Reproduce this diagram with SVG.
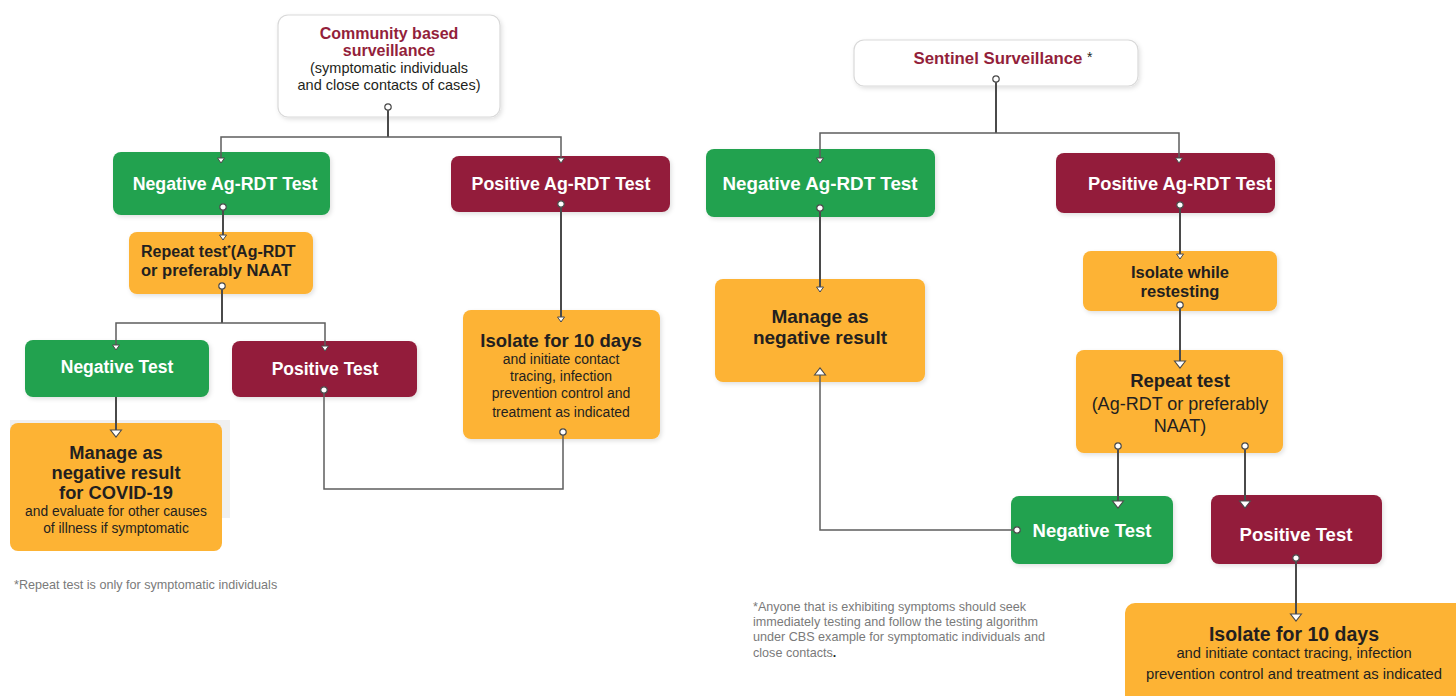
<svg xmlns="http://www.w3.org/2000/svg" width="1456" height="696" viewBox="0 0 1456 696">
<style>
.t{font-family:"Liberation Sans",Arial,sans-serif}
.b{font-weight:bold}
.w{fill:#ffffff}
.d{fill:#231f20}
.r{fill:#931f3b}
.g{fill:#24a24f}
.red{fill:#931f3b}
.o{fill:#fdb334}
.wb{fill:#ffffff;stroke:#d9d9d9;stroke-width:1.2}
.thick{fill:none;stroke:#4a4a4a;stroke-width:2}
.thin{fill:none;stroke:#5e5e5e;stroke-width:1.5}
.fn{fill:#7a7a7a}
</style>
<defs>
<filter id="sh" x="-10%" y="-10%" width="125%" height="130%">
<feDropShadow dx="1.5" dy="2" stdDeviation="2" flood-color="#000" flood-opacity="0.12"/>
</filter>
<marker id="dot" markerUnits="userSpaceOnUse" markerWidth="10" markerHeight="10" refX="0" refY="0" overflow="visible" orient="auto">
<circle cx="0" cy="0" r="3.2" fill="#ffffff" stroke="#4a4a4a" stroke-width="1.2"/>
</marker>
<marker id="as" markerUnits="userSpaceOnUse" markerWidth="10" markerHeight="10" refX="5" refY="0" overflow="visible" orient="auto-start-reverse">
<path d="M0,-3.5 L5,0 L0,3.5 Z" fill="#ffffff" stroke="#4a4a4a" stroke-width="1"/>
</marker>
<marker id="al" markerUnits="userSpaceOnUse" markerWidth="12" markerHeight="12" refX="7" refY="0" overflow="visible" orient="auto-start-reverse">
<path d="M0,-5.5 L7,0 L0,5.5 Z" fill="#ffffff" stroke="#4a4a4a" stroke-width="1.1"/>
</marker>
</defs>
<rect width="1456" height="696" fill="#ffffff"/>

<!-- LEFT -->
<g id="cbs">
<rect class="wb" x="278" y="15" width="222" height="102" rx="10" filter="url(#sh)"/>
<text class="t b r" x="389" y="39" font-size="16" text-anchor="middle">Community based</text>
<text class="t b r" x="389" y="56" font-size="16" text-anchor="middle">surveillance</text>
<text class="t d" x="389" y="73" font-size="14.5" text-anchor="middle">(symptomatic individuals</text>
<text class="t d" x="389" y="90" font-size="14.5" text-anchor="middle">and close contacts of cases)</text>
</g>
<g id="neg-ag-left">
<rect class="g" x="113" y="152" width="217" height="63" rx="8" filter="url(#sh)"/>
<text class="t b w" x="225" y="190" font-size="17.8" text-anchor="middle">Negative Ag-RDT Test</text>
</g>
<g id="pos-ag-left">
<rect class="red" x="451" y="156" width="219" height="56" rx="8" filter="url(#sh)"/>
<text class="t b w" x="561" y="190" font-size="17.8" text-anchor="middle">Positive Ag-RDT Test</text>
</g>
<g id="repeat-left">
<rect class="o" x="129" y="232" width="184" height="62" rx="8" filter="url(#sh)"/>
<text class="t b d" x="141" y="257" font-size="16">Repeat test<tspan font-size="9" dy="-6">*</tspan><tspan dy="6">(Ag-RDT</tspan></text>
<text class="t b d" x="141" y="276" font-size="16.5">or preferably NAAT</text>
</g>
<g id="neg-test-left">
<rect class="g" x="25" y="340" width="184" height="57" rx="8" filter="url(#sh)"/>
<text class="t b w" x="117" y="373" font-size="17.5" text-anchor="middle">Negative Test</text>
</g>
<g id="pos-test-left">
<rect class="red" x="232" y="341" width="185" height="56" rx="8" filter="url(#sh)"/>
<text class="t b w" x="325" y="375" font-size="17.5" text-anchor="middle">Positive Test</text>
</g>
<g id="manage-left">
<rect x="10" y="420" width="220" height="98" fill="#f0f0f0"/>
<rect class="o" x="10" y="423" width="212" height="128" rx="8"/>
<text class="t b d" x="116" y="459" font-size="18.3" text-anchor="middle">Manage as</text>
<text class="t b d" x="116" y="479" font-size="18.3" text-anchor="middle">negative result</text>
<text class="t b d" x="116" y="499" font-size="18.3" text-anchor="middle">for COVID-19</text>
<text class="t d" x="116" y="516" font-size="13.8" text-anchor="middle">and evaluate for other causes</text>
<text class="t d" x="116" y="533" font-size="13.8" text-anchor="middle">of illness if symptomatic</text>
</g>
<g id="isolate-left">
<rect class="o" x="463" y="310" width="197" height="129" rx="8" filter="url(#sh)"/>
<text class="t b d" x="561" y="347" font-size="18.5" text-anchor="middle">Isolate for 10 days</text>
<text class="t d" x="561" y="364" font-size="14" text-anchor="middle">and initiate contact</text>
<text class="t d" x="561" y="381" font-size="14" text-anchor="middle">tracing, infection</text>
<text class="t d" x="561" y="398" font-size="14" text-anchor="middle">prevention control and</text>
<text class="t d" x="561" y="417" font-size="14" text-anchor="middle">treatment as indicated</text>
</g>
<text class="t fn" x="14" y="589" font-size="12.6">*Repeat test is only for symptomatic individuals</text>

<!-- RIGHT -->
<g id="sentinel">
<rect class="wb" x="854" y="40" width="284" height="46" rx="10" filter="url(#sh)"/>
<text class="t b r" x="998" y="64" font-size="16.8" text-anchor="middle">Sentinel Surveillance</text>
<text class="t d" x="1087" y="62" font-size="14">*</text>
</g>
<g id="neg-ag-right">
<rect class="g" x="706" y="149" width="229" height="68" rx="8" filter="url(#sh)"/>
<text class="t b w" x="820" y="190" font-size="18.8" text-anchor="middle">Negative Ag-RDT Test</text>
</g>
<g id="pos-ag-right">
<rect class="red" x="1056" y="153" width="219" height="60" rx="8" filter="url(#sh)"/>
<text class="t b w" x="1180" y="190" font-size="18.3" text-anchor="middle">Positive Ag-RDT Test</text>
</g>
<g id="manage-right">
<rect class="o" x="715" y="279" width="210" height="103" rx="8" filter="url(#sh)"/>
<text class="t b d" x="820" y="323" font-size="19" text-anchor="middle">Manage as</text>
<text class="t b d" x="820" y="344" font-size="19" text-anchor="middle">negative result</text>
</g>
<g id="isolate-while">
<rect class="o" x="1083" y="251" width="194" height="60" rx="8" filter="url(#sh)"/>
<text class="t b d" x="1180" y="278" font-size="16.5" text-anchor="middle">Isolate while</text>
<text class="t b d" x="1180" y="297" font-size="16.5" text-anchor="middle">restesting</text>
</g>
<g id="repeat-right">
<rect class="o" x="1076" y="350" width="207" height="103" rx="8" filter="url(#sh)"/>
<text class="t b d" x="1180" y="387" font-size="18.5" text-anchor="middle">Repeat test</text>
<text class="t d" x="1180" y="410" font-size="18" text-anchor="middle">(Ag-RDT or preferably</text>
<text class="t d" x="1180" y="432" font-size="18" text-anchor="middle">NAAT)</text>
</g>
<g id="neg-test-right">
<rect class="g" x="1011" y="496" width="162" height="68" rx="8" filter="url(#sh)"/>
<text class="t b w" x="1092" y="537" font-size="18.5" text-anchor="middle">Negative Test</text>
</g>
<g id="pos-test-right">
<rect class="red" x="1211" y="495" width="171" height="69" rx="8" filter="url(#sh)"/>
<text class="t b w" x="1296" y="541" font-size="18.5" text-anchor="middle">Positive Test</text>
</g>
<g id="isolate-right">
<rect class="o" x="1125" y="603" width="340" height="110" rx="10"/>
<text class="t b d" x="1294" y="641" font-size="19.5" text-anchor="middle">Isolate for 10 days</text>
<text class="t d" x="1294" y="658" font-size="14.8" text-anchor="middle">and initiate contact tracing, infection</text>
<text class="t d" x="1294" y="679" font-size="14.8" text-anchor="middle">prevention control and treatment as indicated</text>
</g>
<g id="footnote-right" class="t fn" font-size="12.6">
<text x="753" y="611">*Anyone that is exhibiting symptoms should seek</text>
<text x="753" y="626">immediately testing and follow the testing algorithm</text>
<text x="753" y="641">under CBS example for symptomatic individuals and</text>
<text x="753" y="657">close contacts<tspan fill="#231f20" font-weight="bold">.</tspan></text>
</g>

<g id="connectors">
<path class="thick" d="M388,107 V137" marker-start="url(#dot)"/>
<path class="thin" d="M221,163 V137 H561 V163" marker-start="url(#as)" marker-end="url(#as)"/>
<path class="thick" d="M223,207 V240" marker-start="url(#dot)" marker-end="url(#as)"/>
<path class="thick" d="M222,286 V323" marker-start="url(#dot)"/>
<path class="thin" d="M116,350 V323 H325 V351" marker-start="url(#as)" marker-end="url(#as)"/>
<path class="thick" d="M116,397 V437" marker-end="url(#al)"/>
<path class="thick" d="M561,204 V322" marker-start="url(#dot)" marker-end="url(#as)"/>
<path class="thin" d="M324,390 V489 H563 V432" marker-start="url(#dot)" marker-end="url(#dot)"/>

<path class="thick" d="M996,79 V133" marker-start="url(#dot)"/>
<path class="thin" d="M820,163 V133 H1179 V163" marker-start="url(#as)" marker-end="url(#as)"/>
<path class="thick" d="M820,208 V292" marker-start="url(#dot)" marker-end="url(#as)"/>
<path class="thick" d="M1180,205 V259" marker-start="url(#dot)" marker-end="url(#as)"/>
<path class="thick" d="M1180,305 V368" marker-start="url(#dot)" marker-end="url(#al)"/>
<path class="thick" d="M1118,446 V508" marker-start="url(#dot)" marker-end="url(#al)"/>
<path class="thick" d="M1245,446 V508" marker-start="url(#dot)" marker-end="url(#al)"/>
<path class="thin" d="M1017,530 H820 V368" marker-start="url(#dot)" marker-end="url(#al)"/>
<path class="thick" d="M1296,558 V621" marker-start="url(#dot)" marker-end="url(#al)"/>
</g>
</svg>
